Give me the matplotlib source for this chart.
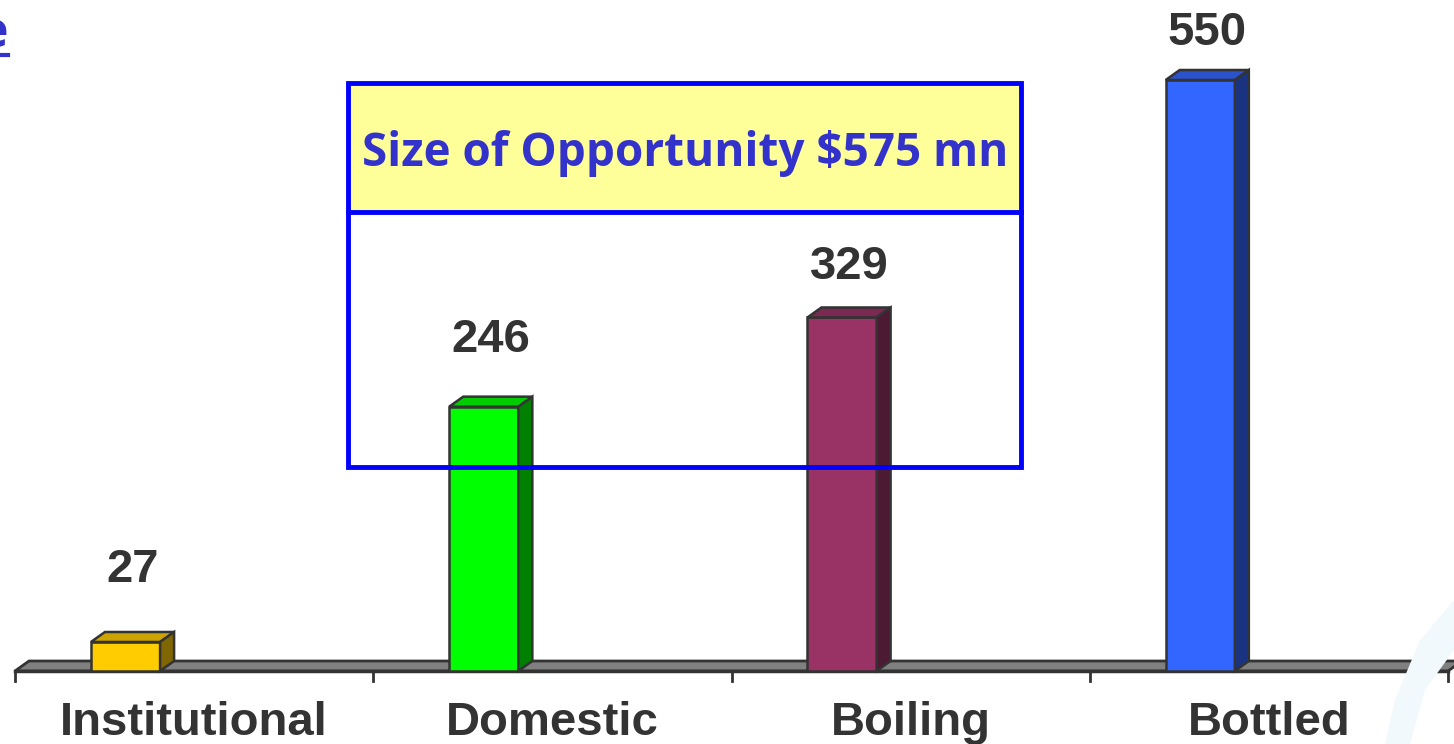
import numpy as np
import matplotlib
matplotlib.use("Agg")
import matplotlib.pyplot as plt
from matplotlib.patches import Polygon, Rectangle

# ---------------- data ----------------
categories = ["Institutional", "Domestic", "Boiling", "Bottled"]
values = [27, 246, 329, 550]
front_colors = ["#FFCC00", "#00FF00", "#993366", "#3366FF"]
top_colors = ["#CCA300", "#00CC00", "#7A2952", "#2952CC"]
side_colors = ["#806600", "#008000", "#4D1A33", "#1A3380"]
box_title = "Size of Opportunity $575 mn"

# ---------------- layout (pixels) ----------------
W, H = 1454, 744
DPI = 100
X0_PX, X1_PX = 15, 1448      # floor front edge
Y0_PX = 671                  # value 0
PX_PER_UNIT = 591 / 550      # 550 -> 591 px
DEPTH_PX = (14, 10)          # 3d offset
BAR_LEFT, BAR_W = 0.212, 0.193
LABEL_GAP_PX = [50, 45, 28, 25]   # value label baseline above bar top (hand placed in original)
EDGE = "#333333"
TXT = "#333333"

fig = plt.figure(figsize=(W / DPI, H / DPI), dpi=DPI)
top_px = 5
ax = fig.add_axes([X0_PX / W, (H - Y0_PX) / H, (X1_PX - X0_PX) / W, (Y0_PX - top_px) / H])
ax.set_xlim(0, len(categories))
ax.set_ylim(0, (Y0_PX - top_px) / PX_PER_UNIT)
ax.axis("off")

# depth in data units
ddx = DEPTH_PX[0] / ((X1_PX - X0_PX) / len(categories))
ddy = DEPTH_PX[1] / PX_PER_UNIT


def fx(x):
    return x / W


def fy(y):
    return 1 - y / H


# faint watermark swoosh, bottom right
wm = Polygon([(fx(1454), fy(600)), (fx(1420), fy(640)), (fx(1395), fy(700)), (fx(1385), fy(744)),
              (fx(1410), fy(744)), (fx(1425), fy(690)), (fx(1454), fy(650))],
             closed=True, transform=fig.transFigure, facecolor="#F1F9FD", edgecolor="none", zorder=0)
fig.patches.append(wm)

# floor
n = len(categories)
floor = Polygon([(0, 0), (n, 0), (n + ddx, ddy), (ddx, ddy)], closed=True,
                facecolor="#808080", edgecolor=EDGE, lw=2, clip_on=False, zorder=1)
ax.add_patch(floor)
ax.plot([0, n], [0, 0], color=EDGE, lw=2.5, clip_on=False, zorder=1.5)
tick_len = 10 / PX_PER_UNIT
for i in range(n + 1):
    ax.plot([i, i], [0, -tick_len], color=EDGE, lw=2, clip_on=False, zorder=1.5)

# bars
for i, (v, fc, tc, sc) in enumerate(zip(values, front_colors, top_colors, side_colors)):
    x0 = i + BAR_LEFT
    x1 = x0 + BAR_W
    ax.bar(x0, v, width=BAR_W, align="edge", color=fc, edgecolor=EDGE, lw=1.8, zorder=3)
    ax.add_patch(Polygon([(x0, v), (x1, v), (x1 + ddx, v + ddy), (x0 + ddx, v + ddy)],
                         closed=True, facecolor=tc, edgecolor=EDGE, lw=1.8, zorder=3, clip_on=False))
    ax.add_patch(Polygon([(x1, 0), (x1 + ddx, ddy), (x1 + ddx, v + ddy), (x1, v)],
                         closed=True, facecolor=sc, edgecolor=EDGE, lw=1.8, zorder=3, clip_on=False))
    ax.text(x0 + BAR_W / 2 + ddx / 2, v + ddy + LABEL_GAP_PX[i] / PX_PER_UNIT, str(v),
            ha="center", va="baseline", fontsize=34, fontweight="bold", color=TXT,
            family="Liberation Sans", clip_on=False)
    ax.text(i + 0.5, -64 / PX_PER_UNIT, categories[i], ha="center", va="baseline",
            fontsize=34, fontweight="bold", color=TXT, family="Liberation Sans", clip_on=False)

# opportunity box (figure pixels)
bx0, bx1, by0, by_mid, by1 = 348, 1021, 83, 212, 467
fig.patches.append(Rectangle((fx(bx0), fy(by_mid)), fx(bx1) - fx(bx0), fy(by0) - fy(by_mid),
                             transform=fig.transFigure, facecolor="#FFFF99", edgecolor="none", zorder=4))
fig.patches.append(Rectangle((fx(bx0), fy(by1)), fx(bx1) - fx(bx0), fy(by0) - fy(by1),
                             transform=fig.transFigure, facecolor="none", edgecolor="#0000FF", lw=3.5, zorder=5))
fig.lines.append(plt.Line2D([fx(bx0), fx(bx1)], [fy(by_mid), fy(by_mid)], transform=fig.transFigure,
                            color="#0000FF", lw=3.5, zorder=5))
fig.text(fx((bx0 + bx1) / 2 + 1), fy(166), box_title, ha="center", va="baseline",
         fontsize=33, fontweight="bold", color="#3333CC", family="Open Sans", zorder=6)

# cut-off title fragment at the top left
fig.text(fx(8), fy(47), "e", ha="right", va="baseline", fontsize=36, fontweight="bold",
         color="#3333CC", family="Open Sans")
fig.lines.append(plt.Line2D([0, fx(8)], [fy(54.5), fy(54.5)], transform=fig.transFigure,
                            color="#3333CC", lw=3))

fig.savefig("out.png", dpi=DPI, facecolor="white")
